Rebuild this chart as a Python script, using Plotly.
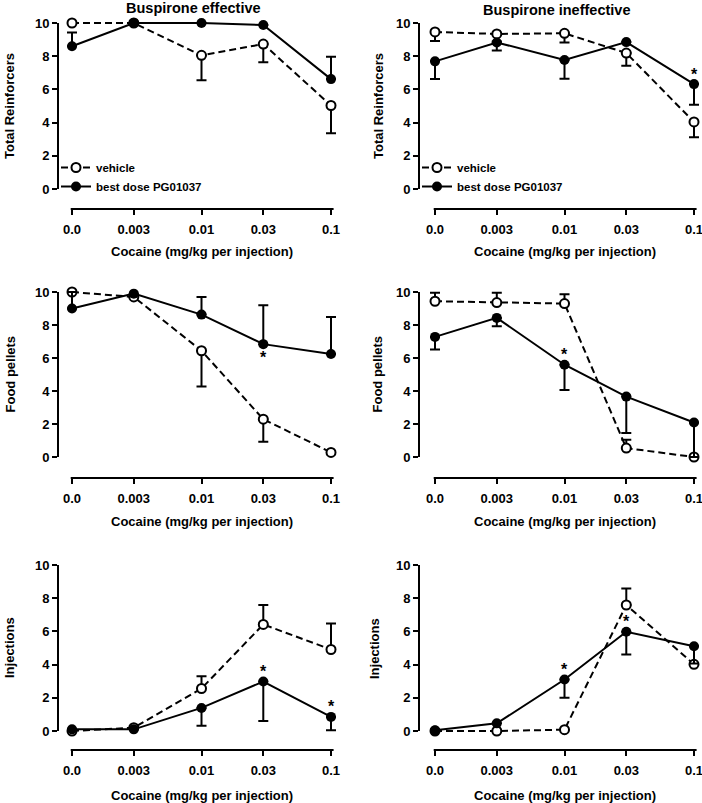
import numpy as np
import plotly.graph_objects as go

W, H = 702, 803

# ---------------- data ----------------
dose_labels = ["0.0", "0.003", "0.01", "0.03", "0.1"]
doses = [0.0, 0.003, 0.01, 0.03, 0.1]
zero_dose_position = 0.001          # broken log axis: 0.0 is drawn one half-decade left of 0.003

col_titles = ["Buspirone effective", "Buspirone ineffective"]
row_titles = ["Total Reinforcers", "Food pellets", "Injections"]
x_title = "Cocaine (mg/kg per injection)"
series_names = ["vehicle", "best dose PG01037"]

# Total reinforcers – buspirone effective
reinf_eff_vehicle = [10.0, 10.0, 8.05, 8.73, 5.03]
reinf_eff_vehicle_err_up = [0, 0, 0, 0, 0]
reinf_eff_vehicle_err_down = [0, 0, 1.50, 1.10, 1.67]
reinf_eff_pg = [8.60, 10.0, 10.0, 9.88, 6.62]
reinf_eff_pg_err_up = [0.83, 0, 0, 0, 1.35]
reinf_eff_pg_err_down = [0, 0, 0, 0, 0]
reinf_eff_sig = []

# Total reinforcers – buspirone ineffective
reinf_ineff_vehicle = [9.46, 9.34, 9.38, 8.19, 4.04]
reinf_ineff_vehicle_err_up = [0, 0, 0, 0, 0]
reinf_ineff_vehicle_err_down = [0.55, 0.45, 0.55, 0.77, 0.92]
reinf_ineff_pg = [7.69, 8.83, 7.77, 8.85, 6.32]
reinf_ineff_pg_err_up = [0, 0, 0, 0, 0]
reinf_ineff_pg_err_down = [1.07, 0.48, 1.13, 0, 1.25]
reinf_ineff_sig = [(4, "above")]

# Food pellets – buspirone effective
food_eff_vehicle = [10.0, 9.70, 6.44, 2.29, 0.28]
food_eff_vehicle_err_up = [0, 0, 0, 0, 0]
food_eff_vehicle_err_down = [0, 0, 2.17, 1.36, 0]
food_eff_pg = [9.00, 9.90, 8.63, 6.84, 6.24]
food_eff_pg_err_up = [1.00, 0, 1.07, 2.36, 2.25]
food_eff_pg_err_down = [0, 0, 0, 0, 0]
food_eff_sig = [(3, "below")]

# Food pellets – buspirone ineffective
food_ineff_vehicle = [9.44, 9.36, 9.30, 0.54, 0.0]
food_ineff_vehicle_err_up = [0.52, 0.60, 0.56, 0.50, 0]
food_ineff_vehicle_err_down = [0, 0, 0, 0, 0]
food_ineff_pg = [7.28, 8.43, 5.59, 3.66, 2.09]
food_ineff_pg_err_up = [0, 0, 0, 0, 0]
food_ineff_pg_err_down = [0.76, 0.50, 1.53, 2.20, 2.09]
food_ineff_sig = [(2, "above")]

# Injections – buspirone effective
inj_eff_vehicle = [0.0, 0.20, 2.56, 6.42, 4.91]
inj_eff_vehicle_err_up = [0, 0, 0.74, 1.17, 1.57]
inj_eff_vehicle_err_down = [0, 0, 0, 0, 0]
inj_eff_pg = [0.10, 0.10, 1.39, 2.98, 0.85]
inj_eff_pg_err_up = [0, 0, 0, 0, 0]
inj_eff_pg_err_down = [0, 0, 1.07, 2.38, 0.81]
inj_eff_sig = [(3, "above"), (4, "above")]

# Injections – buspirone ineffective
inj_ineff_vehicle = [0.0, 0.0, 0.08, 7.59, 4.02]
inj_ineff_vehicle_err_up = [0, 0, 0, 1.00, 0]
inj_ineff_vehicle_err_down = [0, 0, 0, 0, 0]
inj_ineff_pg = [0.04, 0.46, 3.10, 5.98, 5.11]
inj_ineff_pg_err_up = [0, 0, 0, 0, 0]
inj_ineff_pg_err_down = [0, 0, 1.09, 1.37, 1.05]
inj_ineff_sig = [(2, "above"), (3, "above")]

y_ticks = [0, 2, 4, 6, 8, 10]

panels = [
    [(reinf_eff_vehicle, reinf_eff_vehicle_err_up, reinf_eff_vehicle_err_down,
      reinf_eff_pg, reinf_eff_pg_err_up, reinf_eff_pg_err_down, reinf_eff_sig),
     (reinf_ineff_vehicle, reinf_ineff_vehicle_err_up, reinf_ineff_vehicle_err_down,
      reinf_ineff_pg, reinf_ineff_pg_err_up, reinf_ineff_pg_err_down, reinf_ineff_sig)],
    [(food_eff_vehicle, food_eff_vehicle_err_up, food_eff_vehicle_err_down,
      food_eff_pg, food_eff_pg_err_up, food_eff_pg_err_down, food_eff_sig),
     (food_ineff_vehicle, food_ineff_vehicle_err_up, food_ineff_vehicle_err_down,
      food_ineff_pg, food_ineff_pg_err_up, food_ineff_pg_err_down, food_ineff_sig)],
    [(inj_eff_vehicle, inj_eff_vehicle_err_up, inj_eff_vehicle_err_down,
      inj_eff_pg, inj_eff_pg_err_up, inj_eff_pg_err_down, inj_eff_sig),
     (inj_ineff_vehicle, inj_ineff_vehicle_err_up, inj_ineff_vehicle_err_down,
      inj_ineff_pg, inj_ineff_pg_err_up, inj_ineff_pg_err_down, inj_ineff_sig)],
]

# x positions on a log10 scale (0.0 placed at the axis-break position)
x_pos = np.log10([d if d > 0 else zero_dose_position for d in doses])

# ---------------- layout geometry (pixels) ----------------
FONT = "Liberation Sans, Arial, sans-serif"
col_axis_px = [58, 419]       # y-axis line
col_first_tick_px = [72, 435]  # position of the 0.0 tick
col_right_px = [346, 702]
decade_px = 129.5
row_y10_px = [23, 292, 565]
row_y0_px = [189, 457, 731]
row_xline_px = [209, 478, 750]
ytitle_center_px = [[10, 379], [10, 377], [9, 374]]
xtitle_y_px = [252, 521, 795]
title_y_px = [8, 10]
title_x_px = [193, 556]

fig = go.Figure()
layout = dict(
    width=W, height=H, margin=dict(l=0, r=0, t=0, b=0),
    plot_bgcolor="white", paper_bgcolor="white",
    font=dict(family=FONT, color="black", size=12, weight="bold"),
    showlegend=True,
)
annotations = []
shapes = []

for r in range(3):
    for c in range(2):
        k = r * 2 + c + 1
        xa = "x" if k == 1 else f"x{k}"
        ya = "y" if k == 1 else f"y{k}"
        xkey = "xaxis" if k == 1 else f"xaxis{k}"
        ykey = "yaxis" if k == 1 else f"yaxis{k}"

        veh, veh_up, veh_dn, pg, pg_up, pg_dn, sig = panels[r][c]

        # axes
        x_left = x_pos[0] + (col_axis_px[c] - col_first_tick_px[c]) / decade_px
        x_right = x_pos[0] + (col_right_px[c] - col_first_tick_px[c]) / decade_px
        ppu = (row_y0_px[r] - row_y10_px[r]) / 10.0
        top_px = row_y10_px[r] - 9
        y_bottom = -(row_xline_px[r] - row_y0_px[r]) / ppu
        y_top = 10 + (row_y10_px[r] - top_px) / ppu

        layout[xkey] = dict(
            domain=[col_axis_px[c] / W, col_right_px[c] / W],
            range=[x_left, x_right], anchor=ya,
            tickmode="array", tickvals=list(x_pos), ticktext=dose_labels,
            ticks="outside", ticklen=5, tickwidth=2, tickcolor="black",
            showline=False, showgrid=False, zeroline=False,
            tickfont=dict(family=FONT, size=13, weight="bold"),
            ticklabelstandoff=3, ticklabeloverflow="allow",
        )
        layout[ykey] = dict(
            domain=[1 - row_xline_px[r] / H, 1 - top_px / H],
            range=[y_bottom, y_top], anchor=xa,
            tickmode="array", tickvals=y_ticks,
            ticks="outside", ticklen=5, tickwidth=2, tickcolor="black",
            showline=False, showgrid=False, zeroline=False,
            tickfont=dict(family=FONT, size=13, weight="bold"),
        )
        # axis lines
        shapes.append(dict(type="line", xref=f"{xa} domain", yref=ya,
                           x0=0, x1=0, y0=0, y1=10,
                           line=dict(color="black", width=2)))
        shapes.append(dict(type="line", xref=xa, yref=f"{ya} domain",
                           x0=x_pos[0] - 0.01, x1=x_pos[-1] + 0.02, y0=0, y1=0,
                           line=dict(color="black", width=2)))

        leg = "legend" if c == 0 else "legend2"
        show = r == 0
        # vehicle: open circles, dashed
        fig.add_trace(go.Scatter(
            x=x_pos, y=veh, xaxis=xa, yaxis=ya, mode="lines+markers",
            name=series_names[0], legend=leg, showlegend=show,
            line=dict(color="black", width=2, dash="7px,4px"),
            marker=dict(symbol="circle", size=9, color="white",
                        line=dict(color="black", width=2)),
            error_y=dict(type="data", symmetric=False, array=veh_up,
                         arrayminus=veh_dn, color="black", thickness=2, width=5),
            cliponaxis=False,
        ))
        # PG01037: filled circles, solid
        fig.add_trace(go.Scatter(
            x=x_pos, y=pg, xaxis=xa, yaxis=ya, mode="lines+markers",
            name=series_names[1], legend=leg, showlegend=show,
            line=dict(color="black", width=2),
            marker=dict(symbol="circle", size=10, color="black",
                        line=dict(color="black", width=0)),
            error_y=dict(type="data", symmetric=False, array=pg_up,
                         arrayminus=pg_dn, color="black", thickness=2, width=5),
            cliponaxis=False,
        ))
        # significance asterisks
        for idx, where in sig:
            annotations.append(dict(
                x=x_pos[idx], y=pg[idx], xref=xa, yref=ya, text="*",
                showarrow=False, font=dict(family=FONT, size=16, weight="bold"),
                yshift=10 if where == "above" else -13,
            ))
        # axis titles
        annotations.append(dict(
            x=ytitle_center_px[r][c] / W, y=1 - (row_y10_px[r] + row_y0_px[r]) / 2 / H,
            xref="paper", yref="paper", text=row_titles[r], textangle=-90,
            showarrow=False, font=dict(family=FONT, size=13, weight="bold"),
            xanchor="center", yanchor="middle",
        ))
        annotations.append(dict(
            x=(col_first_tick_px[c] + col_first_tick_px[c] + 2 * decade_px) / 2 / W,
            y=1 - xtitle_y_px[r] / H,
            xref="paper", yref="paper", text=x_title,
            showarrow=False, font=dict(family=FONT, size=13, weight="bold"),
            xanchor="center", yanchor="middle",
        ))

for c in range(2):
    annotations.append(dict(
        x=title_x_px[c] / W, y=1 - title_y_px[c] / H, xref="paper", yref="paper",
        text=col_titles[c], showarrow=False,
        font=dict(family=FONT, size=14.5, weight="bold"),
        xanchor="center", yanchor="middle",
    ))

legend_common = dict(
    bgcolor="rgba(0,0,0,0)", borderwidth=0,
    font=dict(family=FONT, size=11.5, weight="bold"),
    xanchor="left", yanchor="top", tracegroupgap=0, itemwidth=30,
)
layout["legend"] = dict(x=56 / W, y=1 - 153 / H, **legend_common)
layout["legend2"] = dict(x=417 / W, y=1 - 153 / H, **legend_common)
layout["annotations"] = annotations
layout["shapes"] = shapes

fig.update_layout(**layout)
fig.write_html(
    "out.html",
    config={"displayModeBar": False},
    post_script="document.body.style.margin='0px';document.body.style.overflow='hidden';",
)
